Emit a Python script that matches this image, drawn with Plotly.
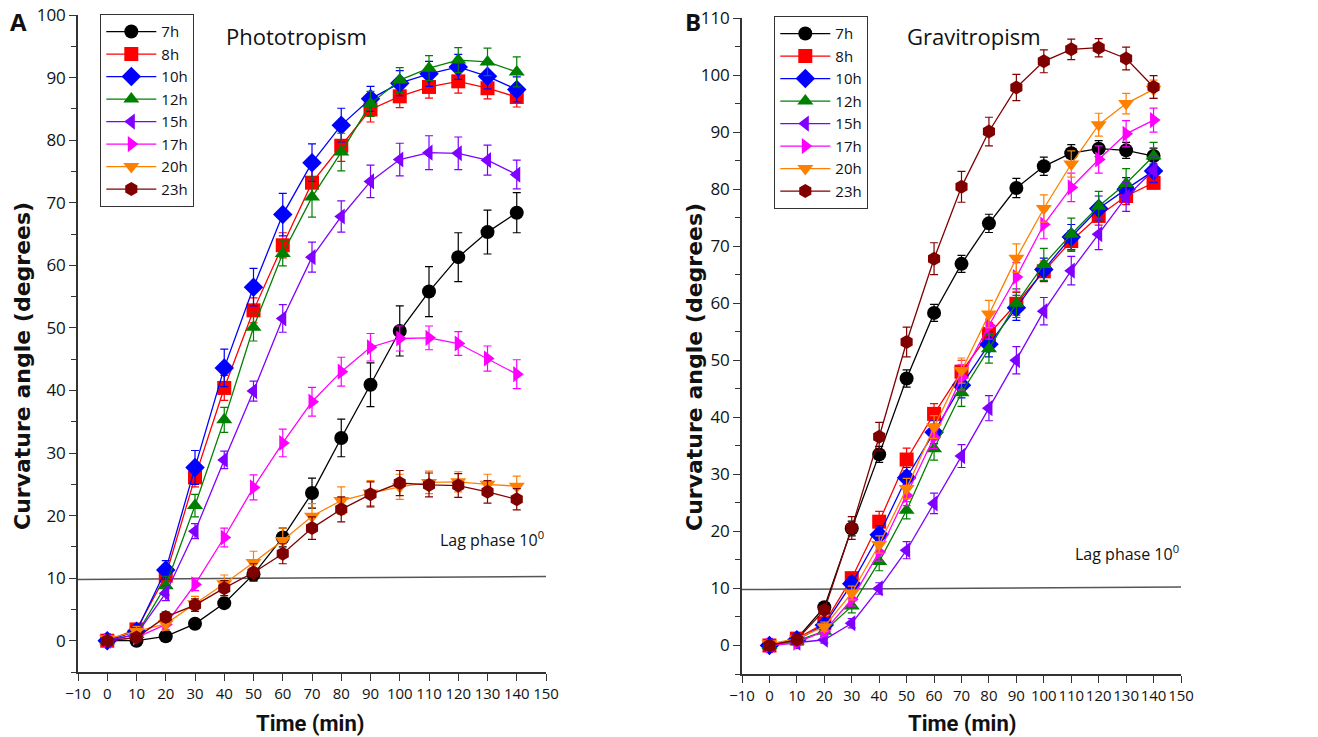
import plotly.graph_objects as go

time_min = [0, 10, 20, 30, 40, 50, 60, 70, 80, 90, 100, 110, 120, 130, 140]
series_names = ["7h", "8h", "10h", "12h", "15h", "17h", "20h", "23h"]
colors = ["#000000", "#ff0000", "#0000ff", "#008000", "#8000ff", "#ff00ff", "#ff8000", "#800000"]
symbols = ["circle", "square", "diamond", "triangle-up", "triangle-left", "triangle-right", "triangle-down", "hexagon"]

# Panel A: Phototropism
photo_7h = [0, 0, 0.7, 2.7, 6.0, 10.6, 16.5, 23.6, 32.4, 40.9, 49.5, 55.8, 61.3, 65.3, 68.4]
photo_8h = [0, 1.8, 10.4, 26.1, 40.4, 52.8, 63.2, 73.2, 79.1, 84.9, 87.0, 88.5, 89.4, 88.3, 86.9]
photo_10h = [0, 1.5, 11.3, 27.7, 43.6, 56.5, 68.1, 76.4, 82.4, 86.6, 89.1, 90.6, 91.7, 90.2, 88.1]
photo_12h = [0, 1.0, 8.8, 21.6, 35.3, 50.1, 61.9, 70.9, 78.1, 85.8, 89.6, 91.5, 92.8, 92.5, 90.9]
photo_15h = [0, 1.0, 7.6, 17.5, 28.9, 39.9, 51.5, 61.3, 67.8, 73.4, 76.9, 78.0, 77.9, 76.8, 74.5]
photo_17h = [0, 0.5, 2.6, 9.0, 16.5, 24.5, 31.6, 38.2, 43.0, 46.9, 48.3, 48.4, 47.5, 45.1, 42.6]
photo_20h = [0.3, 1.5, 2.7, 5.9, 9.1, 12.5, 16.0, 19.9, 22.4, 23.6, 24.6, 25.3, 25.4, 25.0, 24.7]
photo_23h = [0, 0.5, 3.8, 5.7, 8.4, 10.9, 13.9, 18.0, 21.0, 23.4, 25.2, 24.9, 24.8, 23.8, 22.6]

photo_7h_err = [0.3, 0.4, 0.5, 0.6, 0.8, 1.0, 1.5, 2.4, 3.0, 3.5, 4.0, 4.0, 3.9, 3.5, 3.2]
photo_8h_err = [0.3, 0.6, 1.0, 1.5, 2.0, 2.0, 2.0, 2.5, 2.5, 2.0, 1.8, 1.8, 1.9, 1.7, 1.6]
photo_10h_err = [0.3, 0.6, 1.5, 2.7, 3.0, 3.0, 3.4, 3.0, 2.7, 2.0, 2.0, 2.0, 2.0, 2.0, 2.0]
photo_12h_err = [0.3, 0.5, 1.5, 1.8, 2.0, 2.2, 2.0, 3.2, 3.0, 2.0, 2.0, 2.0, 2.0, 2.2, 2.4]
photo_15h_err = [0.3, 0.5, 1.2, 1.2, 1.4, 1.6, 2.2, 2.4, 2.5, 2.6, 2.6, 2.7, 2.6, 2.4, 2.3]
photo_17h_err = [0.3, 0.4, 0.8, 1.0, 1.5, 2.0, 2.2, 2.3, 2.3, 2.2, 2.0, 1.9, 1.9, 2.0, 2.3]
photo_20h_err = [0.4, 0.8, 1.0, 1.2, 1.4, 1.8, 2.0, 2.0, 2.2, 2.0, 2.0, 1.8, 1.6, 1.6, 1.6]
photo_23h_err = [0.3, 0.5, 0.8, 1.0, 1.2, 1.4, 1.6, 1.8, 2.0, 2.0, 2.0, 1.9, 1.9, 1.8, 1.7]

# Panel B: Gravitropism
gravi_7h = [0, 1.2, 6.7, 20.5, 33.5, 46.8, 58.3, 66.9, 74.0, 80.2, 84.0, 86.3, 87.1, 86.8, 85.8]
gravi_8h = [0, 1.2, 3.9, 11.8, 21.7, 32.6, 40.6, 48.0, 54.6, 59.9, 65.6, 70.9, 75.3, 78.8, 81.1]
gravi_10h = [0, 1.0, 3.6, 10.8, 19.4, 29.4, 37.4, 45.6, 52.8, 59.2, 65.9, 71.6, 76.6, 80.0, 83.2]
gravi_12h = [0, 0.8, 2.5, 6.9, 14.7, 23.7, 34.5, 44.3, 52.0, 60.0, 66.8, 72.1, 77.0, 81.0, 85.8]
gravi_15h = [0, 0.5, 1.0, 3.9, 10.0, 16.7, 24.9, 33.2, 41.6, 50.0, 58.6, 65.7, 72.1, 78.6, 83.3]
gravi_17h = [0, 0.5, 2.5, 8.1, 16.4, 26.3, 36.5, 47.0, 56.1, 64.6, 73.8, 80.3, 85.2, 89.7, 92.1]
gravi_20h = [0.3, 1.2, 3.3, 9.2, 17.7, 27.5, 38.3, 48.2, 58.1, 67.9, 76.6, 84.4, 91.3, 95.0, 97.5]
gravi_23h = [0, 1.0, 6.2, 20.6, 36.6, 53.2, 67.8, 80.4, 90.1, 97.8, 102.4, 104.5, 104.8, 102.9, 97.9]

gravi_7h_err = [0.3, 0.4, 0.8, 1.3, 1.4, 1.5, 1.5, 1.5, 1.6, 1.7, 1.6, 1.5, 1.4, 1.4, 1.4]
gravi_8h_err = [0.3, 0.5, 0.8, 1.0, 1.8, 2.0, 1.8, 2.0, 2.0, 2.0, 1.8, 1.8, 1.6, 1.5, 1.0]
gravi_10h_err = [0.3, 0.5, 0.8, 1.2, 1.6, 1.8, 2.0, 2.2, 2.2, 2.2, 2.0, 2.2, 2.2, 2.0, 2.0]
gravi_12h_err = [0.3, 0.5, 0.8, 1.2, 1.6, 1.5, 2.0, 2.4, 2.5, 2.5, 2.8, 2.8, 2.6, 2.6, 2.4]
gravi_15h_err = [0.3, 0.4, 0.6, 0.8, 1.0, 1.5, 1.8, 2.0, 2.2, 2.4, 2.4, 2.5, 2.7, 2.5, 2.3]
gravi_17h_err = [0.3, 0.4, 0.8, 1.2, 1.6, 1.8, 2.0, 2.2, 2.4, 2.5, 2.5, 2.5, 2.4, 2.3, 2.1]
gravi_20h_err = [0.3, 0.5, 0.8, 1.2, 1.5, 1.8, 2.0, 2.2, 2.4, 2.5, 2.4, 2.3, 2.0, 1.8, 1.6]
gravi_23h_err = [0.3, 0.5, 0.8, 2.0, 2.5, 2.6, 2.8, 2.7, 2.5, 2.3, 2.0, 1.8, 1.6, 2.0, 2.0]

lag_x = [-10, 150]
lag_y = [9.8, 10.25]

photo_vals = [photo_7h, photo_8h, photo_10h, photo_12h, photo_15h, photo_17h, photo_20h, photo_23h]
photo_errs = [photo_7h_err, photo_8h_err, photo_10h_err, photo_12h_err, photo_15h_err, photo_17h_err, photo_20h_err, photo_23h_err]
gravi_vals = [gravi_7h, gravi_8h, gravi_10h, gravi_12h, gravi_15h, gravi_17h, gravi_20h, gravi_23h]
gravi_errs = [gravi_7h_err, gravi_8h_err, gravi_10h_err, gravi_12h_err, gravi_15h_err, gravi_17h_err, gravi_20h_err, gravi_23h_err]

FONT = "Open Sans"
TITLE_FONT = "DejaVu Sans"
W, H = 1318, 737

fig = go.Figure()

for panel, vals, errs, xa, ya, leg in [
    ("A", photo_vals, photo_errs, "x", "y", "legend"),
    ("B", gravi_vals, gravi_errs, "x2", "y2", "legend2"),
]:
    # lag phase reference line
    fig.add_trace(go.Scatter(x=lag_x, y=lag_y, mode="lines", xaxis=xa, yaxis=ya,
                             line=dict(color="#555555", width=1.5), showlegend=False,
                             hoverinfo="skip"))
    for name, c, s, v, e in zip(series_names, colors, symbols, vals, errs):
        fig.add_trace(go.Scatter(
            x=time_min, y=v, name=name, mode="lines+markers",
            xaxis=xa, yaxis=ya, legend=leg,
            line=dict(color=c, width=1.3),
            marker=dict(symbol=s, size=14 if s != "diamond" else 15, color=c, line=dict(width=0)),
            error_y=dict(type="data", array=e, visible=True, color=c, thickness=1.2, width=4),
        ))

def px_x(p):
    return p / W

def px_y(p):
    return 1 - p / H

axis_common = dict(
    showline=True, linecolor="#333333", linewidth=1.5, mirror=False,
    ticks="outside", ticklen=7, tickwidth=1.3, tickcolor="#333333",
    showgrid=False, zeroline=False, automargin=False,
)
yfont = dict(family=FONT, size=17, color="#111111")
xfont = dict(family=FONT, size=15, color="#111111")
minor_y = dict(dtick=5, tick0=0, ticks="outside", ticklen=5, tickcolor="#333333", tickwidth=1.2)

fig.update_layout(
    width=W, height=H,
    margin=dict(l=0, r=0, t=0, b=0),
    paper_bgcolor="white", plot_bgcolor="white",
    font=dict(family=FONT, color="#111111"),
    xaxis=dict(domain=[px_x(78), px_x(546)], range=[-10, 150], dtick=10, tick0=-10,
               anchor="y", tickangle=0, tickfont=xfont, **axis_common),
    yaxis=dict(domain=[px_y(672), px_y(15)], range=[-5, 100], dtick=10, tick0=0,
               anchor="x", tickfont=yfont, minor=minor_y, **axis_common),
    xaxis2=dict(domain=[px_x(742), px_x(1181)], range=[-10, 150], dtick=10, tick0=-10,
                anchor="y2", tickangle=0, tickfont=xfont, **axis_common),
    yaxis2=dict(domain=[px_y(674), px_y(18)], range=[-5, 110], dtick=10, tick0=0,
                anchor="x2", tickfont=yfont, minor=minor_y, **axis_common),
    legend=dict(x=px_x(100), y=px_y(14), xanchor="left", yanchor="top",
                bordercolor="#333333", borderwidth=1.3, bgcolor="white",
                font=dict(family=FONT, size=15), tracegroupgap=0, itemwidth=50),
    legend2=dict(x=px_x(774), y=px_y(16), xanchor="left", yanchor="top",
                 bordercolor="#333333", borderwidth=1.3, bgcolor="white",
                 font=dict(family=FONT, size=15), tracegroupgap=0, itemwidth=50),
    showlegend=True,
)

annotations = [
    dict(text="<b>A</b>", x=px_x(18), y=px_y(22), xref="paper", yref="paper",
         showarrow=False, font=dict(family=FONT, size=24), xanchor="center", yanchor="middle"),
    dict(text="<b>B</b>", x=px_x(693), y=px_y(22), xref="paper", yref="paper",
         showarrow=False, font=dict(family=FONT, size=24), xanchor="center", yanchor="middle"),
    dict(text="Phototropism", x=px_x(224), y=px_y(36), xref="paper", yref="paper",
         showarrow=False, font=dict(family=FONT, size=22), xanchor="left", yanchor="middle"),
    dict(text="Gravitropism", x=px_x(905), y=px_y(36), xref="paper", yref="paper",
         showarrow=False, font=dict(family=FONT, size=22), xanchor="left", yanchor="middle"),
    dict(text="<b>Time (min)</b>", x=px_x(310), y=px_y(723), xref="paper", yref="paper",
         showarrow=False, font=dict(family="Roboto", size=22), xanchor="center", yanchor="middle"),
    dict(text="<b>Time (min)</b>", x=px_x(962), y=px_y(723), xref="paper", yref="paper",
         showarrow=False, font=dict(family="Roboto", size=22), xanchor="center", yanchor="middle"),
    dict(text="<b>Curvature angle (degrees)</b>", x=px_x(23), y=px_y(366), xref="paper", yref="paper",
         showarrow=False, textangle=-90, font=dict(family=TITLE_FONT, size=22),
         xanchor="center", yanchor="middle"),
    dict(text="<b>Curvature angle (degrees)</b>", x=px_x(694), y=px_y(367), xref="paper", yref="paper",
         showarrow=False, textangle=-90, font=dict(family=TITLE_FONT, size=22),
         xanchor="center", yanchor="middle"),
    dict(text="Lag phase 10<sup>0</sup>", x=150, y=16.3, xref="x", yref="y",
         showarrow=False, font=dict(family=FONT, size=16), xanchor="right", yanchor="middle"),
    dict(text="Lag phase 10<sup>0</sup>", x=150, y=16.3, xref="x2", yref="y2",
         showarrow=False, font=dict(family=FONT, size=16), xanchor="right", yanchor="middle"),
]
fig.update_layout(annotations=annotations)

# remove the default page margin so the figure sits at the window's top-left corner
fig.write_html(
    "out.html",
    config={"displayModeBar": False},
    post_script="document.body.style.margin='0';document.body.style.overflow='hidden';",
)
